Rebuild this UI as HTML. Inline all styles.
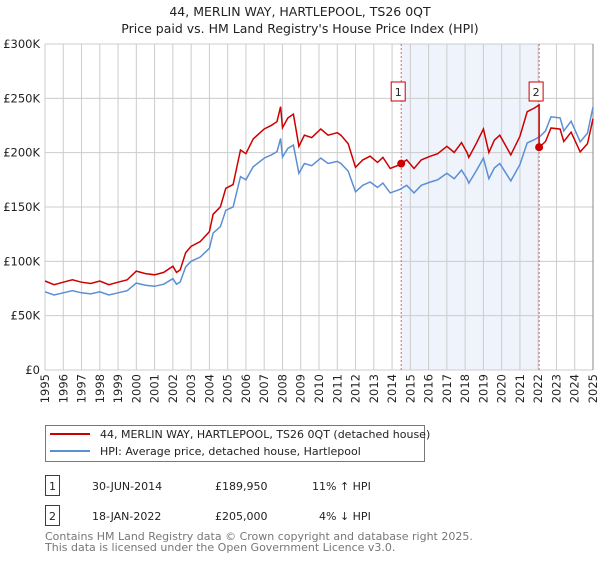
<!DOCTYPE html>
<html><head><meta charset="utf-8"><style>
body{margin:0;background:#fff;font-family:"Liberation Sans","DejaVu Sans",sans-serif;}
svg text{font-family:"DejaVu Sans","Liberation Sans",sans-serif;}
</style></head><body>
<svg id="c" width="600" height="560" xmlns="http://www.w3.org/2000/svg">
<text x="300" y="16" text-anchor="middle" font-size="12.5" fill="#222">44, MERLIN WAY, HARTLEPOOL, TS26 0QT</text>
<text x="300" y="33" text-anchor="middle" font-size="12.5" fill="#222">Price paid vs. HM Land Registry's House Price Index (HPI)</text>
<g id="plot"></g>
<rect x="45.5" y="425.5" width="379" height="36" fill="#fff" stroke="#777"/>
<line x1="50" y1="434" x2="90" y2="434" stroke="#cc0000" stroke-width="2"/>
<text x="100" y="438" font-size="11" fill="#222">44, MERLIN WAY, HARTLEPOOL, TS26 0QT (detached house)</text>
<line x1="50" y1="451" x2="90" y2="451" stroke="#5b8fd4" stroke-width="2"/>
<text x="100" y="455" font-size="11" fill="#222">HPI: Average price, detached house, Hartlepool</text>
<g font-size="11" fill="#222">
<rect x="45.5" y="475.5" width="14" height="20" fill="#fff" stroke="#cc0000"/><text x="49" y="490">1</text>
<text x="92" y="490">30-JUN-2014</text><text x="215" y="490">£189,950</text><text x="312" y="490">11% ↑ HPI</text></g>
<g font-size="11" fill="#222">
<rect x="45.5" y="505.5" width="14" height="20" fill="#fff" stroke="#cc0000"/><text x="49" y="520">2</text>
<text x="92" y="520">18-JAN-2022</text><text x="215" y="520">£205,000</text><text x="319" y="520">4% ↓ HPI</text></g>
<text x="45" y="540" font-size="11" fill="#777">Contains HM Land Registry data © Crown copyright and database right 2025.</text>
<text x="45" y="551" font-size="11" fill="#777">This data is licensed under the Open Government Licence v3.0.</text>
</svg>
<script>
const hpiYears=[1995,1995.5,1996,1996.5,1997,1997.5,1998,1998.5,1999,1999.5,2000,2000.5,2001,2001.5,2002,2002.2,2002.4,2002.7,2003,2003.5,2004,2004.2,2004.6,2004.9,2005.3,2005.7,2006,2006.4,2007,2007.4,2007.7,2007.9,2008,2008.3,2008.6,2008.9,2009.2,2009.6,2010.1,2010.5,2011,2011.2,2011.6,2012,2012.4,2012.8,2013.2,2013.5,2013.9,2014.4,2014.8,2015.2,2015.6,2016.1,2016.5,2017,2017.4,2017.8,2018.1,2018.2,2018.6,2019,2019.3,2019.6,2019.9,2020.2,2020.5,2021,2021.4,2021.8,2022.1,2022.4,2022.7,2023.2,2023.4,2023.8,2024.3,2024.7,2025];
const hpiValues=[72,69,71,73,71,70,72,69,71,73,80,78,77,79,84,79,81,95,100,104,112,126,132,147,150,178,175,187,195,198,201,213,196,204,207,181,190,188,195,190,192,190,183,164,170,173,168,172,163,166,170,163,170,173,175,181,176,184,176,172,183,195,176,186,190,182,174,189,209,212,215,220,233,232,220,229,210,218,242];
const saleYears=[2014.5,2022.05];
const salePrices=[189.95,205];
const yTicks=[0,50,100,150,200,250,300];
const yTickLabels=["£0","£50K","£100K","£150K","£200K","£250K","£300K"];
const xTicks=[1995,1996,1997,1998,1999,2000,2001,2002,2003,2004,2005,2006,2007,2008,2009,2010,2011,2012,2013,2014,2015,2016,2017,2018,2019,2020,2021,2022,2023,2024,2025];
const NS="http://www.w3.org/2000/svg";
const X=y=>45+(y-1995)*(548/30);
const Y=v=>370-v*(326/300);
const g=document.getElementById('plot');
function mk(t,a){const e=document.createElementNS(NS,t);for(const k in a)e.setAttribute(k,a[k]);g.appendChild(e);return e;}
let e=mk('rect',{x:X(saleYears[0]),y:44,width:X(saleYears[1])-X(saleYears[0]),height:326,fill:'#eef3fc'});


yTicks.forEach((t,i)=>{
 let l=mk('line',{x1:45,x2:593,y1:Y(t),y2:Y(t),stroke:'#ccc'});
 
 
 let tx=mk('text',{x:40,y:Y(t)+4,'text-anchor':'end','font-size':'11.5',fill:'#222'});tx.textContent=yTickLabels[i];
 
 
});
xTicks.forEach(t=>{
 let l=mk('line',{x1:X(t),x2:X(t),y1:44,y2:370,stroke:'#ccc'});
 
 
 let tx=mk('text',{x:0,y:0,'text-anchor':'end','font-size':'11.5',fill:'#222',transform:'translate('+(X(t)+4)+',374) rotate(-90)'});tx.textContent=t;
 
 
});
let bl=mk('line',{x1:593,x2:593,y1:44,y2:370,stroke:'#888'});


saleYears.forEach((s,i)=>{
 let l=mk('line',{x1:X(s),x2:X(s),y1:44,y2:370,stroke:'#e06060','stroke-dasharray':'2,2'});
 
 
 let r=mk('rect',{x:X(s)-10,y:82,width:14,height:19,fill:'#fff',stroke:'#cc0000'});
 
 
 let tx=mk('text',{x:X(s)-3,y:96,'text-anchor':'middle','font-size':'11',fill:'#222'});tx.textContent=String(i+1);
 
 
});
function hpiAt(y){for(let i=1;i<hpiYears.length;i++){if(y<=hpiYears[i]){const f=(y-hpiYears[i-1])/(hpiYears[i]-hpiYears[i-1]);return hpiValues[i-1]+f*(hpiValues[i]-hpiValues[i-1]);}}return hpiValues[hpiValues.length-1];}
let r1=salePrices[0]/hpiAt(saleYears[0]), r2=salePrices[1]/hpiAt(saleYears[1]);
let redPts=[];
hpiYears.forEach((y,i)=>{
 if(y<saleYears[1]){redPts.push([y,hpiValues[i]*r1]);}
 else{if(redPts.length&&redPts[redPts.length-1][0]<saleYears[1]){redPts.push([saleYears[1],hpiAt(saleYears[1])*r1]);redPts.push([saleYears[1],salePrices[1]]);}redPts.push([y,hpiValues[i]*r2]);}
});
let hp=mk('path',{d:hpiYears.map((y,i)=>(i?'L':'M')+X(y).toFixed(1)+','+Y(hpiValues[i]).toFixed(1)).join(''),fill:'none',stroke:'#5b8fd4','stroke-width':1.5});


let rp=mk('path',{d:redPts.map((p,i)=>(i?'L':'M')+X(p[0]).toFixed(1)+','+Y(p[1]).toFixed(1)).join(''),fill:'none',stroke:'#cc0000','stroke-width':1.5});


saleYears.forEach((s,i)=>{
 let c=mk('circle',{cx:X(s),cy:Y(salePrices[i]),r:4,fill:'#cc0000'});
 
 
});
</script>
</body></html>
